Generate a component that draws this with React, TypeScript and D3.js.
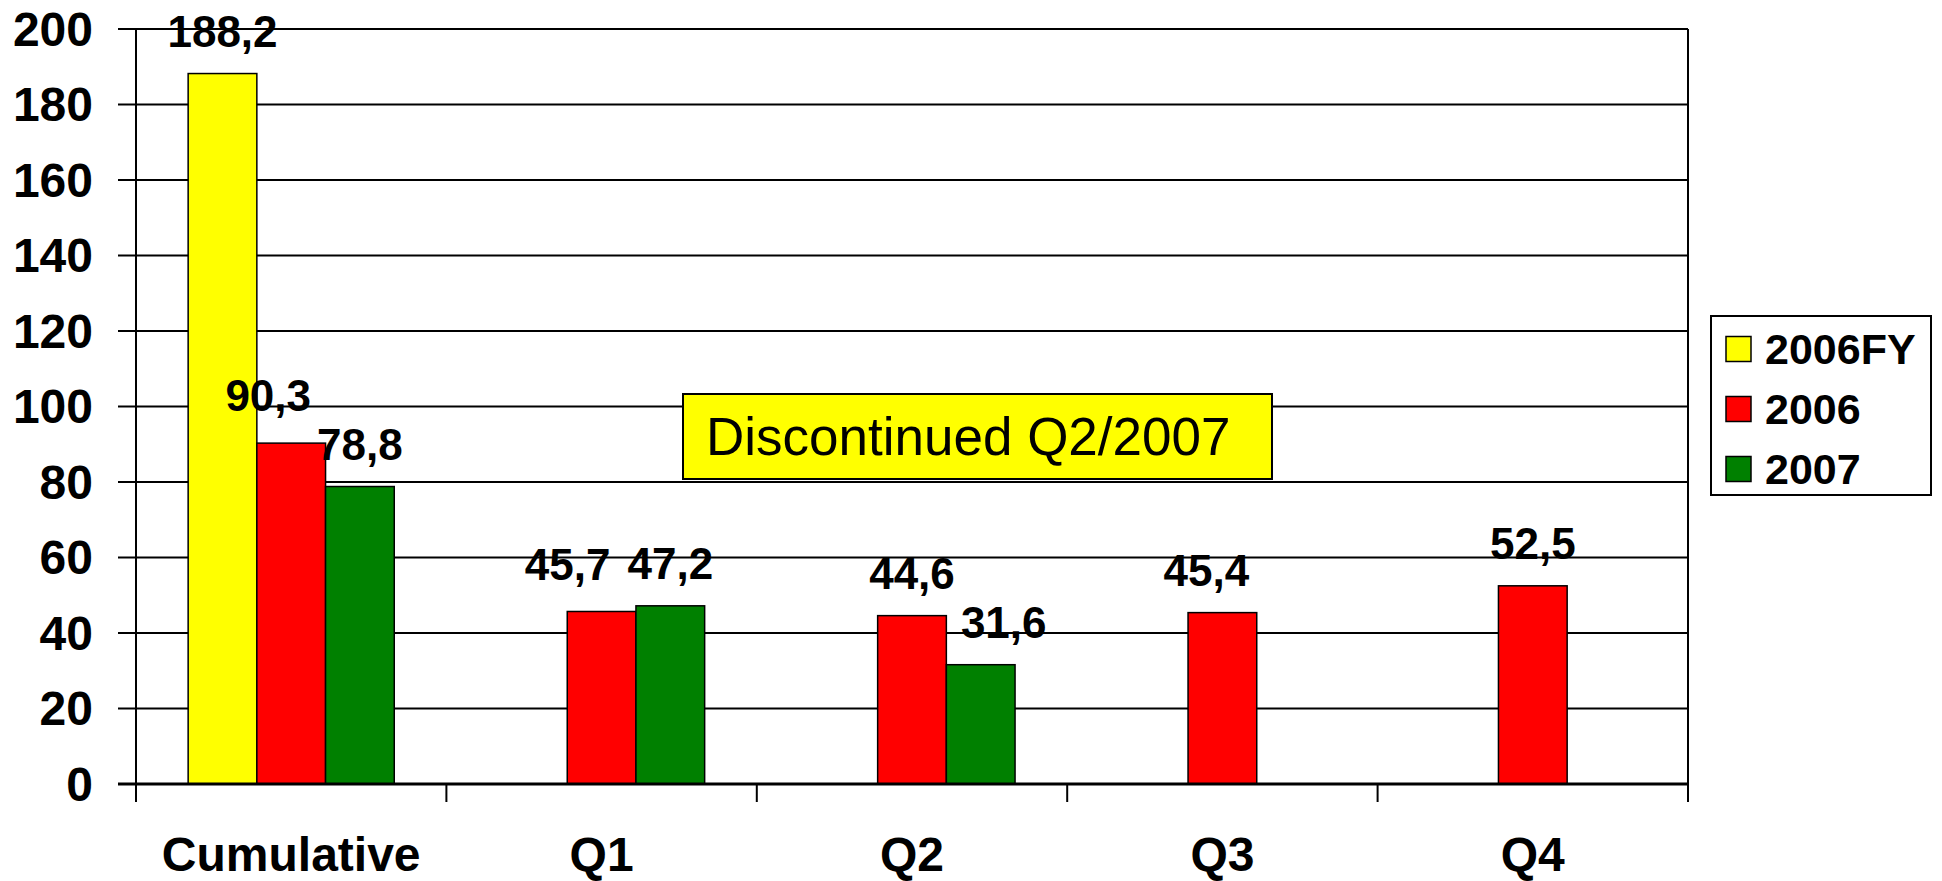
import React from 'react';
import * as d3 from 'd3';

const categories = ['Cumulative', 'Q1', 'Q2', 'Q3', 'Q4'];
const seriesNames = ['2006FY', '2006', '2007'];
const fy2006 = [188.2, null, null, null, null];
const values2006 = [90.3, 45.7, 44.6, 45.4, 52.5];
const values2007 = [78.8, 47.2, 31.6, null, null];
const yTicks = [0, 20, 40, 60, 80, 100, 120, 140, 160, 180, 200];
const note = 'Discontinued Q2/2007';

const colors = ['#FFFF00', '#FF0000', '#008000'];

// hand-placed label nudges seen in the original (series-category -> [dx, dy])
const labelShift: Record<string, [number, number]> = {
  '1-0': [-23, -5],
  '1-1': [-34, -4],
  '2-2': [23, 0],
  '1-3': [-16, 0],
};

const font = '"Liberation Sans", Arial, sans-serif';

export default function App() {
  const width = 1942;
  const height = 881;
  const left = 136;
  const right = 1688;
  const top = 29;
  const bottom = 784;

  const series = [fy2006, values2006, values2007];

  const x = d3.scaleBand<string>().domain(categories).range([left, right]).padding(0);
  const xs = d3
    .scaleBand<string>()
    .domain(seriesNames)
    .range([0, x.bandwidth()])
    .paddingInner(0)
    .paddingOuter(0.759);
  const y = d3.scaleLinear().domain([0, 200]).range([bottom, top]);

  const boundaries = [...categories.map((c) => x(c) as number), right];

  return (
    <svg
      width={width}
      height={height}
      style={{ position: 'absolute', left: 0, top: 0, background: '#fff' }}
      fontFamily={font}
    >
      <rect width={width} height={height} fill="#fff" />

      {/* gridlines */}
      {yTicks.map((t) => (
        <line key={t} x1={left - 18} x2={right} y1={y(t)} y2={y(t)} stroke="#000" strokeWidth={2} />
      ))}
      <line x1={right} x2={right} y1={top} y2={bottom} stroke="#000" strokeWidth={2} />

      {/* y tick labels */}
      {yTicks.map((t) => (
        <text
          key={t}
          x={93}
          y={y(t)}
          dy="0.35em"
          textAnchor="end"
          fontSize={48}
          fontWeight="bold"
        >
          {t}
        </text>
      ))}

      {/* bars */}
      {series.map((vals, si) =>
        vals.map((v, ci) =>
          v == null ? null : (
            <rect
              key={`${si}-${ci}`}
              x={(x(categories[ci]) as number) + (xs(seriesNames[si]) as number)}
              y={y(v)}
              width={xs.bandwidth()}
              height={y(0) - y(v)}
              fill={colors[si]}
              stroke="#000"
              strokeWidth={1.5}
            />
          )
        )
      )}

      {/* axes */}
      <line x1={left} x2={left} y1={top} y2={bottom + 18} stroke="#000" strokeWidth={2} />
      <line x1={left - 18} x2={right} y1={bottom} y2={bottom} stroke="#000" strokeWidth={3} />
      {boundaries.map((b, i) => (
        <line key={i} x1={b} x2={b} y1={bottom} y2={bottom + 18} stroke="#000" strokeWidth={2} />
      ))}

      {/* category labels */}
      {categories.map((c) => (
        <text
          key={c}
          x={(x(c) as number) + x.bandwidth() / 2}
          y={871}
          textAnchor="middle"
          fontSize={48}
          fontWeight="bold"
        >
          {c}
        </text>
      ))}

      {/* data labels */}
      {series.map((vals, si) =>
        vals.map((v, ci) => {
          if (v == null) return null;
          const [dx, dy] = labelShift[`${si}-${ci}`] || [0, 0];
          const cx = (x(categories[ci]) as number) + (xs(seriesNames[si]) as number) + xs.bandwidth() / 2;
          return (
            <text
              key={`l${si}-${ci}`}
              x={cx + dx}
              y={y(v) - 27 + dy}
              textAnchor="middle"
              fontSize={44}
              fontWeight="bold"
            >
              {d3.format('.1f')(v).replace('.', ',')}
            </text>
          );
        })
      )}

      {/* note box */}
      <rect x={683} y={394} width={589} height={85} fill="#FFFF00" stroke="#000" strokeWidth={2} />
      <text x={706} y={455} fontSize={53}>
        {note}
      </text>

      {/* legend */}
      <rect x={1711} y={316} width={220} height={179} fill="#fff" stroke="#000" strokeWidth={2} />
      {seriesNames.map((s, i) => (
        <g key={s} transform={`translate(1726, ${349 + i * 60})`}>
          <rect x={0} y={-12.5} width={25} height={25} fill={colors[i]} stroke="#000" strokeWidth={1.5} />
          <text x={39} y={0} dy="0.35em" fontSize={43} fontWeight="bold">
            {s}
          </text>
        </g>
      ))}
    </svg>
  );
}
